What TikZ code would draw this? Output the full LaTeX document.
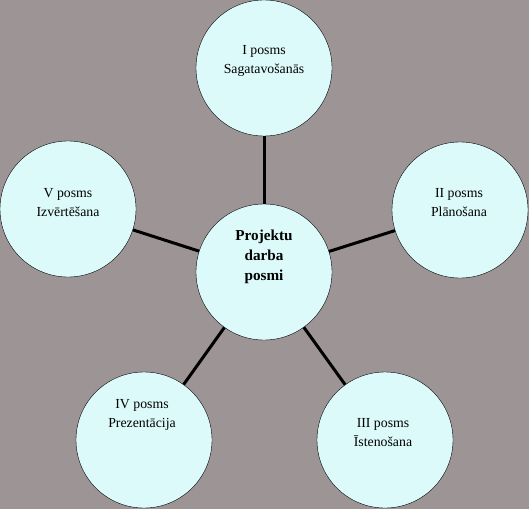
\documentclass[tikz,border=0pt]{standalone}
\usepackage{fontspec}
\setmainfont{Liberation Serif}
\definecolor{fons}{RGB}{157,149,149}
\definecolor{aplis}{RGB}{221,250,250}
\tikzset{posms/.style={circle,draw=black,fill=aplis,minimum size=136pt,inner sep=0pt},
	teksts/.style={align=center,font=\fontsize{13.8}{19}\selectfont},
	virsraksts/.style={align=center,font=\fontsize{15.2}{20}\selectfont\bfseries},
	saite/.style={line width=3pt,black}}

\begin{document}
\begin{tikzpicture}[x=1pt,y=-1pt]
			\useasboundingbox (0,0) rectangle (529,509);
			\fill [fons] (0,0) rectangle (529,509);
			\node [posms] (centrs) at (264,272) {};
			\node [posms] (p1) at (264,68) {};
			\node [posms] (p2) at (460,210) {};
			\node [posms] (p3) at (385,440) {};
			\node [posms] (p4) at (144,440) {};
			\node [posms] (p5) at (68,209) {};
			\foreach \p in {p1,p2,p3,p4,p5}
				\draw [saite] (centrs) -- (\p);
			\node [virsraksts] (t0) at (264,257) {Projektu\\darba\\posmi};
			\node [teksts] (t1) at (264,61) {I posms\\Sagatavošanās};
			\node [teksts] (t2) at (459,203) {II posms\\Plānošana};
			\node [teksts] (t3) at (383,433) {III posms\\Īstenošana};
			\node [teksts] (t4) at (142,415) {IV posms\\Prezentācija};
			\node [teksts] (t5) at (68,203) {V posms\\Izvērtēšana};
		\end{tikzpicture}
\end{document}
